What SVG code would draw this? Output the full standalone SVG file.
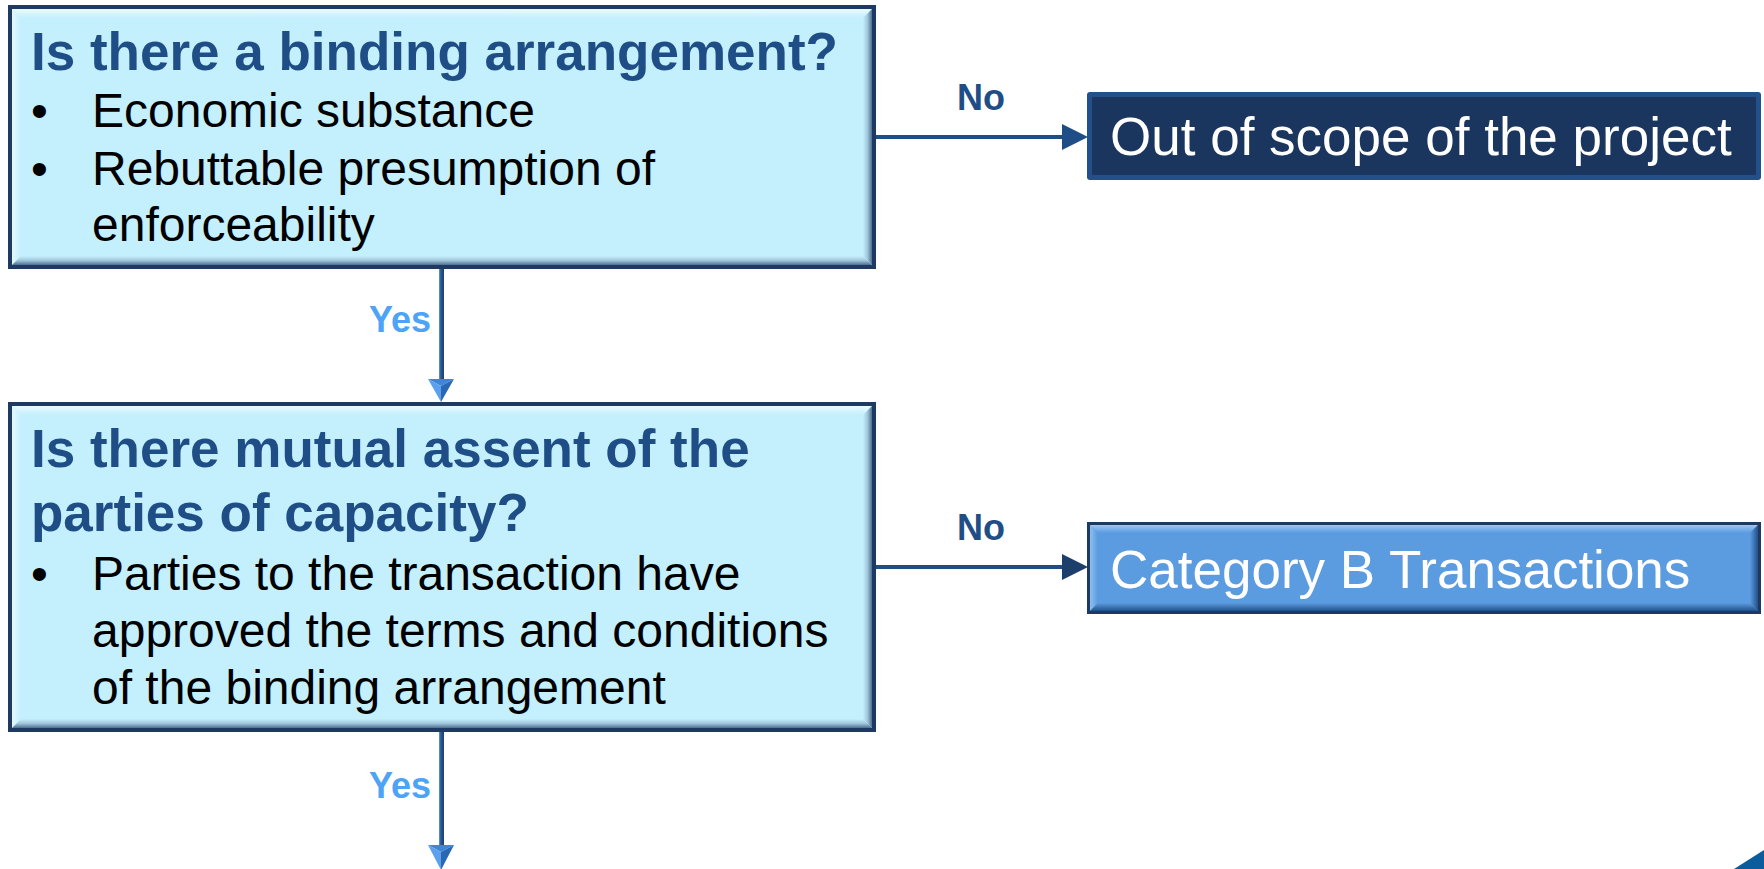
<svg xmlns="http://www.w3.org/2000/svg" width="1764" height="869" viewBox="0 0 1764 869">
  <defs>
    <linearGradient id="bevTop" x1="0" y1="0" x2="0" y2="1">
      <stop offset="0" stop-color="#eafbff"/>
      <stop offset="1" stop-color="#c4effd"/>
    </linearGradient>
    <linearGradient id="bevLeft" x1="0" y1="0" x2="1" y2="0">
      <stop offset="0" stop-color="#e2f8ff"/>
      <stop offset="1" stop-color="#c4effd"/>
    </linearGradient>
    <linearGradient id="bevBottom" x1="0" y1="0" x2="0" y2="1">
      <stop offset="0" stop-color="#c4effd"/>
      <stop offset="0.5" stop-color="#9fc6db"/>
      <stop offset="1" stop-color="#4d6f8f"/>
    </linearGradient>
    <linearGradient id="bevRight" x1="0" y1="0" x2="1" y2="0">
      <stop offset="0" stop-color="#c4effd"/>
      <stop offset="0.5" stop-color="#9fc6db"/>
      <stop offset="1" stop-color="#4d6f8f"/>
    </linearGradient>
    <linearGradient id="bTop" x1="0" y1="0" x2="0" y2="1">
      <stop offset="0" stop-color="#9ac8f4"/>
      <stop offset="1" stop-color="#5b9be0"/>
    </linearGradient>
    <linearGradient id="bLeft" x1="0" y1="0" x2="1" y2="0">
      <stop offset="0" stop-color="#8cbff0"/>
      <stop offset="1" stop-color="#5b9be0"/>
    </linearGradient>
    <linearGradient id="bBottom" x1="0" y1="0" x2="0" y2="1">
      <stop offset="0" stop-color="#5b9be0"/>
      <stop offset="1" stop-color="#24508a"/>
    </linearGradient>
    <linearGradient id="bRight" x1="0" y1="0" x2="1" y2="0">
      <stop offset="0" stop-color="#5b9be0"/>
      <stop offset="1" stop-color="#24508a"/>
    </linearGradient>
    <linearGradient id="stem" x1="0" y1="0" x2="1" y2="0">
      <stop offset="0" stop-color="#5c9ee8"/>
      <stop offset="0.35" stop-color="#2a5a96"/>
      <stop offset="1" stop-color="#1d3e6b"/>
    </linearGradient>
  </defs>
  <style>
    .frame { fill: #1e3a62; }
    .light { fill: #c4effd; }
    .title { font-family: "Liberation Sans", Arial, sans-serif; font-weight: bold; font-size: 53px; fill: #1f4e86; }
    .body { font-family: "Liberation Sans", Arial, sans-serif; font-size: 48px; fill: #000000; }
    .term { font-family: "Liberation Sans", Arial, sans-serif; font-size: 53px; fill: #ffffff; }
    .no { font-family: "Liberation Sans", Arial, sans-serif; font-weight: bold; font-size: 36px; fill: #1f4e86; }
    .yes { font-family: "Liberation Sans", Arial, sans-serif; font-weight: bold; font-size: 36px; fill: #4da3f5; }
    .hline { stroke: #1f4e86; stroke-width: 4; fill: none; }
    .hhead { fill: #1f4e86; }
    .faceL { fill: #5aa0ec; }
    .faceR { fill: #2a68b6; }
    .faceT { fill: #3f86d8; }
  </style>

  <rect width="1764" height="869" fill="#ffffff"/>

  <!-- connectors -->
  <g id="connectors">
    <!-- binding arrangement -> out of scope -->
    <line class="hline" x1="876" y1="137" x2="1064" y2="137"/>
    <polygon class="hhead" points="1062,124 1088,137 1062,150"/>
    <text class="no" x="957" y="110">No</text>

    <!-- binding arrangement -> mutual assent -->
    <rect x="439" y="269" width="5" height="112" fill="url(#stem)"/>
    <polygon class="faceT" points="428,379 454,379 441,386"/>
    <polygon class="faceL" points="428,379 441,386 441,402"/>
    <polygon class="faceR" points="454,379 441,386 441,402"/>
    <text class="yes" x="369" y="332">Yes</text>

    <!-- mutual assent -> category B -->
    <line class="hline" x1="876" y1="567" x2="1064" y2="567"/>
    <polygon fill="#1d3f6b" points="1062,554 1088,567 1062,580"/>
    <text class="no" x="957" y="540">No</text>

    <!-- mutual assent -> next step -->
    <rect x="439" y="732" width="5" height="115" fill="url(#stem)"/>
    <polygon class="faceT" points="428,845 454,845 441,852"/>
    <polygon class="faceL" points="428,845 441,852 441,870"/>
    <polygon class="faceR" points="454,845 441,852 441,870"/>
    <text class="yes" x="369" y="798">Yes</text>
  </g>

  <!-- question 1 -->
  <g id="q-binding">
    <rect class="frame" x="8" y="5" width="868" height="264"/>
    <rect class="light" x="12" y="9" width="860" height="256"/>
    <polygon fill="url(#bevTop)" points="12,9 872,9 863,18 21,18"/>
    <polygon fill="url(#bevLeft)" points="12,9 21,18 21,256 12,265"/>
    <polygon fill="url(#bevBottom)" points="12,265 872,265 863,256 21,256"/>
    <polygon fill="url(#bevRight)" points="872,9 872,265 863,256 863,18"/>
    <text class="title" x="31" y="70">Is there a binding arrangement?</text>
    <text class="body" x="31" y="127">•</text>
    <text class="body" x="92" y="127">Economic substance</text>
    <text class="body" x="31" y="185">•</text>
    <text class="body" x="92" y="185">Rebuttable presumption of</text>
    <text class="body" x="92" y="241">enforceability</text>
  </g>

  <!-- question 2 -->
  <g id="q-assent">
    <rect class="frame" x="8" y="402" width="868" height="330"/>
    <rect class="light" x="12" y="406" width="860" height="322"/>
    <polygon fill="url(#bevTop)" points="12,406 872,406 863,415 21,415"/>
    <polygon fill="url(#bevLeft)" points="12,406 21,415 21,719 12,728"/>
    <polygon fill="url(#bevBottom)" points="12,728 872,728 863,719 21,719"/>
    <polygon fill="url(#bevRight)" points="872,406 872,728 863,719 863,415"/>
    <text class="title" x="31" y="467">Is there mutual assent of the</text>
    <text class="title" x="31" y="531">parties of capacity?</text>
    <text class="body" x="31" y="590">•</text>
    <text class="body" x="92" y="590">Parties to the transaction have</text>
    <text class="body" x="92" y="647">approved the terms and conditions</text>
    <text class="body" x="92" y="704">of the binding arrangement</text>
  </g>

  <!-- outcome: out of scope -->
  <g id="out-of-scope">
    <rect x="1087" y="92" width="674" height="88" rx="3" fill="#22508a"/>
    <rect x="1092" y="97" width="664" height="78" fill="#1a365e"/>
    <text class="term" x="1110" y="155">Out of scope of the project</text>
  </g>

  <!-- outcome: category B -->
  <g id="category-b">
    <rect x="1087" y="522" width="674" height="92" fill="#1f3a60"/>
    <rect x="1090" y="525" width="668" height="86" fill="#5b9be0"/>
    <polygon fill="url(#bTop)" points="1090,525 1758,525 1750,533 1098,533"/>
    <polygon fill="url(#bLeft)" points="1090,525 1098,533 1098,603 1090,611"/>
    <polygon fill="url(#bBottom)" points="1090,611 1758,611 1750,603 1098,603"/>
    <polygon fill="url(#bRight)" points="1758,525 1758,611 1750,603 1750,533"/>
    <text class="term" x="1110" y="588">Category B Transactions</text>
  </g>

  <!-- corner accent -->
  <polygon points="1734,869 1764,850 1764,869" fill="#0b5c9c"/>
</svg>
